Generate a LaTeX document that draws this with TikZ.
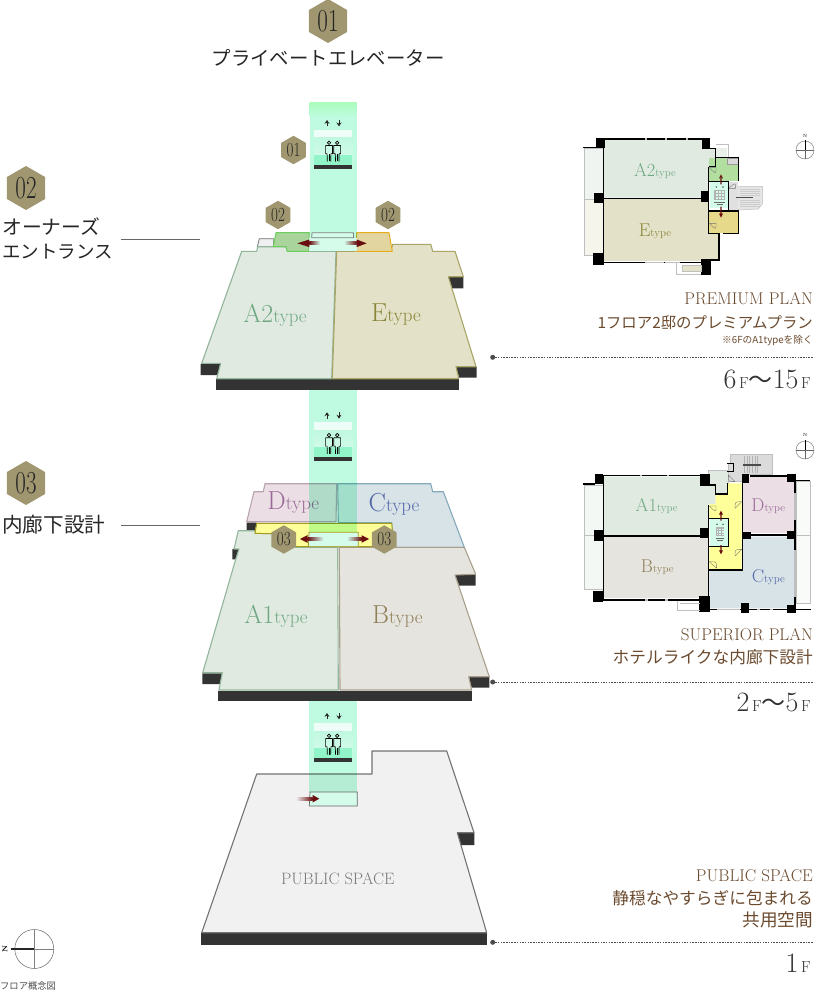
\documentclass[tikz,border=0pt]{standalone}
\usepackage{graphicx}
\usepackage{fontspec}
\newfontfamily\cjk{Noto Sans CJK JP}
\usetikzlibrary{shapes.geometric,arrows.meta}
\definecolor{hexc}{HTML}{A09770}
\definecolor{shaftc}{HTML}{BFFBE0}
\definecolor{mintc}{HTML}{D5FBEB}
\definecolor{liftw}{HTML}{EEFDF7}
\definecolor{lifta}{HTML}{C0F8E0}
\definecolor{liftb}{HTML}{D0FBE9}
\definecolor{liftc}{HTML}{92F5C9}
\definecolor{darkc}{HTML}{333333}
\definecolor{agf}{HTML}{E0EAE1}
\definecolor{ags}{HTML}{93B59B}
\definecolor{etf}{HTML}{E3E2C8}
\definecolor{ets}{HTML}{A9A566}
\definecolor{dtf}{HTML}{EBDFE5}
\definecolor{dts}{HTML}{B9A3B0}
\definecolor{ctf}{HTML}{D8E3E8}
\definecolor{cts}{HTML}{84A9BB}
\definecolor{btf}{HTML}{E6E4DF}
\definecolor{bts}{HTML}{A8A08C}
\definecolor{ptf}{HTML}{F1F1F1}
\definecolor{yelf}{HTML}{FFFF99}
\definecolor{yels}{HTML}{A39A20}
\definecolor{entgf}{HTML}{A9D49C}
\definecolor{entgs}{HTML}{6CCF5C}
\definecolor{entyf}{HTML}{E3D59F}
\definecolor{entys}{HTML}{E6AE1E}
\definecolor{plangf}{HTML}{B2DFA0}
\definecolor{planyf}{HTML}{E6D98A}
\definecolor{redc}{HTML}{6B0E10}
\definecolor{brownc}{HTML}{6B4A2E}
\definecolor{greenl}{HTML}{6FA882}
\definecolor{olivel}{HTML}{8A8438}
\definecolor{purl}{HTML}{9A6A98}
\definecolor{bluel}{HTML}{5568A8}
\definecolor{tanl}{HTML}{8F8058}
\newcommand\typelab[5]{{\color{#5}\fontsize{#3}{#3}\selectfont #1\fontsize{#4}{#4}\selectfont #2}}
\newcommand\nar[2]{\scalebox{#1}[1]{#2}}
\newcommand\flr[2]{{\fontsize{28}{28}\selectfont #1}{\fontsize{16}{16}\selectfont\,F}\ifx&#2&\else{\cjk\fontsize{24}{24}\selectfont 〜}{\fontsize{28}{28}\selectfont #2}{\fontsize{16}{16}\selectfont\,F}\fi}
% red arrow with a fading tail: tail start, head base, tip, y, background colour
\newcommand\redarrow[5]{%
  \shade[left color=#5,right color=redc,shading angle=\ifdim#1pt<#3pt 90\else 270\fi] (#1,#4-1.4) rectangle (#2,#4+1.4);
  \fill[redc] (#2,#4-3.8) -- (#3,#4) -- (#2,#4+3.8) -- cycle;}
\newcommand\door[5]{\draw[draw=black!55,line width=.35pt] (#1,#2) -- (#3,#4) (#3,#4) .. controls (#5) .. (#1,#2);}
\tikzset{
  x=1pt,y=-1pt,
  hex/.style={regular polygon,regular polygon sides=6,shape border rotate=30,fill=hexc,inner sep=0pt,outer sep=0pt,text=black!85},
  hexs/.style={hex,minimum size=28.5pt,font=\fontsize{20}{20}\selectfont},
  hexm/.style={hex,minimum size=44pt,font=\fontsize{32}{32}\selectfont},
  floorp/.style={line width=1.1pt,line join=round},
  block/.style={fill=darkc},
  head/.style={font=\cjk\fontsize{18.5}{22}\selectfont,text=black!85,anchor=west,inner sep=0pt},
  rt/.style={anchor=base east,inner sep=0pt,text=brownc},
  rtlat/.style={rt,font=\fontsize{17}{17}\selectfont\addfontfeature{LetterSpace=2}},
  rtcjk/.style={rt,font=\cjk\fontsize{16.7}{18}\selectfont},
  flrtxt/.style={anchor=base east,inner sep=0pt,text=black!80},
  leader/.style={line width=.4pt,draw=black!60},
  dashl/.style={line width=.4pt,draw=black!70,dash pattern=on 1.5pt off 1.2pt},
  dotn/.style={circle,fill=black!70,minimum size=5pt,inner sep=0pt,outer sep=0pt},
  wall/.style={line width=1.5pt,draw=black},
  col/.style={fill=black},
  win/.style={line width=1.5pt,draw=black!25},
  balc/.style={draw=black!25,line width=.5pt},
  person/.style={draw=black,line width=.7pt,fill=none},
  lift/.pic={
    \fill[liftw] (0,0) rectangle (38,8);
    \shade[top color=lifta,bottom color=liftb] (0,8) rectangle (38,25);
    \fill[liftc] (0,25) rectangle (38,35);
    \fill[darkc] (0,35) rectangle (38,39);
    \foreach \px in {14.7,22.9}{
      \draw[person] (\px,12.8) circle[radius=1.7];
      \draw[person,line join=round] (\px-1.7,31.5) -- (\px-1.9,23.8) -- (\px-3.4,23.8) -- (\px-3.4,15.5) -- (\px+3.4,15.5) -- (\px+3.4,23.8) -- (\px+1.9,23.8) -- (\px+1.7,31.5);
      \draw[person] (\px,24.5) -- (\px,31.5);
    }
    \draw[-{Stealth[length=3.8pt,width=5pt]},line width=.8pt,black!85] (12.7,-3.7) -- (12.7,-10);
    \draw[-{Stealth[length=3.8pt,width=5pt]},line width=.8pt,black!85] (24.7,-10) -- (24.7,-3.7);
  },
  compass/.pic={
    \draw[black!60,line width=.4pt] (0,0) circle[radius=27];
    \draw[black!60,line width=.3pt] (-27,0) -- (27,0) (0,-27) -- (0,27);
    \draw[black,line width=1pt] (0,-30) -- (0,0);
  },
}
\begin{document}
\begin{tikzpicture}
\useasboundingbox (0,0) rectangle (815,1000);
\fill[white] (0,0) rectangle (815,1000);

% ---------- floor 3: public space
\fill[block] (200.7,933.3) rectangle (486.7,945);
\fill[block] (457.3,832.7) -- (474.3,832.7) -- (474.3,845) -- (460.7,845) -- cycle;
\filldraw[fill=ptf,draw=black!55,floorp] (256.7,774) -- (372,774) -- (372,751) -- (446.7,751) -- (474,832.7) -- (457.3,832.7) -- (486.7,932.7) -- (201.7,932.7) -- cycle;
\node[text=black!52,font=\fontsize{16.5}{16.5}\selectfont\addfontfeature{LetterSpace=2},inner sep=0pt] (pubtxt) at (337.7,878.3) {PUBLIC SPACE};
\begin{scope}[blend mode=multiply]
\fill[shaftc] (309.3,701) rectangle (356.7,792);
\end{scope}
\pic at (314.3,723) {lift};
\filldraw[fill=mintc,draw=black!60,line width=.7pt] (310,792) -- (357.3,792) -- (357.3,806) -- (309.3,806) -- cycle;
\redarrow{296}{312.5}{319.3}{798.7}{ptf}

% ---------- floor 2: D / C behind, A1 / B in front
\filldraw[fill=dtf,draw=dts,floorp] (265,483.7) -- (336.7,483.7) -- (336,521.7) -- (246.7,521.7) -- (254,491.7) -- (263.3,491.7) -- cycle;
\filldraw[fill=ctf,draw=cts,floorp] (337.7,483.7) -- (430.7,483.7) -- (432.7,491.7) -- (443.3,491.7) -- (464.3,547.3) -- (393,547.3) -- (391.7,522.7) -- (338.3,522.7) -- cycle;
\node[inner sep=0pt] (dlab) at (293.3,502.7) {\typelab{D}{type}{26}{19}{purl}};
\node[inner sep=0pt] (clab) at (394,504) {\typelab{C}{type}{26}{19}{bluel}};
\fill[block] (246.7,522.7) -- (256.7,522.7) -- (255,530) -- (246.7,530) -- cycle;
\fill[block] (232.3,549) -- (239,549) -- (235.7,559.3) -- (232.3,559.3) -- cycle;
\fill[block] (202.3,673.3) -- (222.3,673.3) -- (220,684) -- (202.3,684) -- cycle;
\fill[block] (217.7,690.7) rectangle (472.3,701);
\fill[block] (455,575) -- (475.7,575) -- (475.7,585.7) -- (459.3,585.7) -- cycle;
\fill[block] (468.7,676.7) -- (489.3,676.7) -- (489.3,687.7) -- (471.7,687.7) -- cycle;
\filldraw[fill=agf,draw=ags,floorp] (238.3,530.7) -- (256,530.7) -- (255,533.3) -- (291.7,534) -- (295,547.3) -- (337.7,547.3) -- (338.3,690) -- (219,690) -- (222.3,672.7) -- (202.7,672.7) -- (235.7,559.3) -- (239,549) -- (234,549) -- cycle;
\filldraw[fill=btf,draw=bts,floorp] (339.3,547.3) -- (464.3,547.3) -- (475.7,574.3) -- (455,575) -- (489.3,676.7) -- (468.7,676.7) -- (471.7,690) -- (340,690) -- cycle;
\node[inner sep=0pt] (a1lab) at (276,616.7) {\typelab{A1}{type}{26}{19}{greenl}};
\node[inner sep=0pt] (blab) at (397.3,616.7) {\typelab{B}{type}{26}{19}{tanl}};
\filldraw[fill=yelf,draw=yels,line width=1pt,line join=round] (256.7,523.3) -- (391.7,523.3) -- (394,546.7) -- (295,546.7) -- (291.7,534.3) -- (255,533.3) -- cycle;
\begin{scope}[blend mode=multiply]
\fill[shaftc] (309.3,390) rectangle (356.7,532.3);
\end{scope}
\pic at (314.3,422.3) {lift};
\filldraw[fill=mintc,draw=yels,line width=.8pt] (309,532.3) -- (358.3,532.3) -- (358.3,546.7) -- (308.3,546.7) -- cycle;
\redarrow{323.3}{307.5}{300}{539}{mintc}
\redarrow{346.7}{361.5}{369}{539}{mintc}
\node[hexs] (h3a) at (283.8,539.5) {\nar{.75}{03}};
\node[hexs] (h3b) at (384.3,539.5) {\nar{.75}{03}};

% ---------- floor 1
\fill[block] (200.7,364) -- (220.7,364) -- (218,375) -- (200.7,375) -- cycle;
\fill[block] (215.7,379.3) rectangle (459.3,390);
\fill[block] (456,366.7) -- (476.7,366.7) -- (476.7,377.7) -- (459.3,377.7) -- cycle;
\fill[block] (448.3,276.7) -- (463.3,276.7) -- (463.3,288.3) -- (452.3,288.3) -- cycle;
\filldraw[fill=black!6,draw=black!55,line width=.8pt] (257.3,246.7) -- (259.3,238.7) -- (274,238.7) -- (273.3,246.7) -- cycle;
\filldraw[fill=agf,draw=ags,floorp] (241.7,251.3) -- (256.7,251.3) -- (257.7,246.7) -- (286,246.7) -- (287.3,251.3) -- (336,251.3) -- (331.7,378.7) -- (216.7,378.7) -- (220.7,363.3) -- (201.7,363.3) -- cycle;
\filldraw[fill=etf,draw=ets,floorp] (336.7,251.3) -- (390.7,251.3) -- (392.7,244.3) -- (430.7,244.3) -- (432.7,251.3) -- (455,251.3) -- (463.3,276.7) -- (448.3,276.7) -- (476,366.7) -- (456,366.7) -- (458.7,378.7) -- (332.3,378.7) -- cycle;
\node[inner sep=0pt] (a2lab) at (275,315) {\typelab{A2}{type}{26}{19}{greenl}};
\node[inner sep=0pt] (elab) at (396,315) {\typelab{E}{type}{26}{19}{olivel}};
\filldraw[fill=entgf,draw=entgs,line width=1pt,line join=round] (276,232.7) -- (309.3,232.7) -- (308.7,251.3) -- (287.3,251.3) -- (286,246.7) -- (273.3,246.7) -- cycle;
\filldraw[fill=entyf,draw=entys,line width=1pt,line join=round] (356.7,232.7) -- (389,232.7) -- (392.3,251.3) -- (355.7,251.3) -- cycle;
\fill[mintc] (309,238) rectangle (357,251);
\begin{scope}[blend mode=multiply]
\shade[top color=shaftc!75!green!75!white,bottom color=shaftc] (309.5,103) rectangle (356.7,117);
\fill[shaftc] (309.5,117) rectangle (356.7,238);
\end{scope}
\filldraw[fill=mintc,draw=black!50,line width=.8pt] (312,232.7) -- (353.3,232.7) -- (353.7,237.7) -- (311.7,237.7) -- cycle;
\pic at (314.3,130) {lift};
\redarrow{320}{309.3}{297.3}{243.3}{mintc}
\redarrow{344}{356.7}{366.7}{243.3}{mintc}
\node[hexs] (h1s) at (293.5,150) {\nar{.75}{01}};
\node[hexs] (h2a) at (278,215) {\nar{.75}{02}};
\node[hexs] (h2b) at (388,215) {\nar{.75}{02}};

% ---------- left captions
\node[hexm] (h1m) at (328,21) {\nar{.72}{01}};
\node[font=\cjk\fontsize{19.4}{22}\selectfont,text=black!85,inner sep=0pt] (t1) at (328,58) {プライベートエレベーター};
\node[hexm] (h2m) at (26,188) {\nar{.72}{02}};
\node[head,font=\cjk\fontsize{19.8}{22}\selectfont] (t2a) at (2,227) {オーナーズ};
\node[head] (t2b) at (2,252) {エントランス};
\node[hexm] (h3m) at (26,483) {\nar{.72}{03}};
\node[head,font=\cjk\fontsize{20.6}{22}\selectfont] (t3) at (2,525) {内廊下設計};
\coordinate (l2a) at (121,239.5); \coordinate (l2b) at (200,239.5);
\coordinate (l3a) at (121,525); \coordinate (l3b) at (200,525);
\draw[leader] (l2a) -- (l2b);
\draw[leader] (l3a) -- (l3b);

% ---------- right captions
\node[dotn] (d1) at (492.7,357.3) {}; \coordinate (e1) at (813,357.3);
\node[dotn] (d2) at (492.7,682) {}; \coordinate (e2) at (813,682);
\node[dotn] (d3) at (492.7,942.3) {}; \coordinate (e3) at (813,942.3);
\draw[dashl] (d1) -- (e1);
\draw[dashl] (d2) -- (e2);
\draw[dashl] (d3) -- (e3);
\node[rtlat] (r1a) at (813,304) {PREMIUM PLAN};
\node[rtcjk,font=\cjk\fontsize{15.4}{18}\selectfont] (r1b) at (813,328) {1フロア2邸のプレミアムプラン};
\node[rtcjk,font=\cjk\fontsize{9.7}{11}\selectfont] (r1c) at (813,343.5) {※6FのA1typeを除く};
\node[flrtxt] (r1d) at (811,388) {\flr{6}{15}};
\node[rtlat] (r2a) at (813,640) {SUPERIOR PLAN};
\node[rtcjk] (r2b) at (813,663) {ホテルライクな内廊下設計};
\node[flrtxt] (r2d) at (811,711) {\flr{2}{5}};
\node[rtlat] (r3a) at (813,881) {PUBLIC SPACE};
\node[rtcjk] (r3b) at (813,904) {静穏なやすらぎに包まれる};
\node[rtcjk,font=\cjk\fontsize{17.6}{18}\selectfont] (r3c) at (813,926) {共用空間};
\node[flrtxt] (r3d) at (811,972) {\flr{1}{}};

% ---------- bottom-left compass
\draw[black!60,line width=.5pt] (34.3,949) circle[radius=19.5];
\draw[black!50,line width=.4pt] (34.3,929.5) -- (34.3,968.5) (34.3,949) -- (53.8,949);
\draw[black!85,line width=2pt] (10.7,949.3) -- (34.3,949.3);
\node[rotate=90,font=\fontsize{7}{7}\selectfont\bfseries,inner sep=0pt] (nlab) at (5,949) {N};
\node[font=\cjk\fontsize{9.3}{11}\selectfont,text=black!70,anchor=west,inner sep=0pt] (concept) at (0,986) {フロア概念図};

% ---------- plan, upper (coordinates are 3x, offset 570,125)
\begin{scope}[shift={(570,125)},scale=1/3]
\filldraw[fill=agf!50!white,balc] (42,70) rectangle (100,222);
\filldraw[fill=etf!35!white,balc] (42,222) rectangle (100,390);
\draw[balc] (437,58) -- (475,58) -- (475,97);
\fill[etf] (100,222) -- (415,222) -- (415,325) -- (445,325) -- (445,408) -- (100,408) -- cycle;
\fill[agf] (100,45) -- (415,45) -- (415,70) -- (437,70) -- (437,125) -- (415,125) -- (415,218) -- (100,218) -- cycle;
\fill[agf!70!white] (437,70) rectangle (472,97);
\filldraw[fill=black!10,balc] (475,185) -- (578,185) -- (578,235) -- (565,252) -- (505,255) -- cycle;
\foreach \sy in {192,198,204,210,226,232,238,244} \draw[black!20,line width=.25pt] (510,\sy) -- (570,\sy);
\fill[black!12] (475,170) rectangle (505,258);
\draw[black!70,line width=1.1pt] (498,218) -- (548,218);
\fill[plangf] (418,100) rectangle (505,168);
\fill[planyf] (418,258) rectangle (505,325);
\filldraw[fill=black!15,draw=black!40,line width=.3pt] (470,100) rectangle (503,118);
\door{418}{128}{438}{128}{438,148}
\door{418}{295}{438}{295}{438,315}
\door{475}{190}{497}{190}{497,172}
\fill[mintc] (420,172) rectangle (473,248);
\fill[gray!60] (433,195) rectangle (465,225);
\foreach \cx in {437,447,457} \foreach \cy in {199,208,216} \fill[mintc] (\cx,\cy) rectangle +(6,5);
\fill[black!70] (439,186) circle[radius=2.5] (459,186) circle[radius=2.5];
\draw[black!60,line width=.5pt] (433,232) -- (465,232) (440,238) -- (458,238);
\draw[wall] (40,68) -- (78,68);
\draw[wall] (78,42) -- (418,42);
\draw[wall] (100,220) -- (415,220);
\draw[wall] (100,45) -- (100,412);
\draw[wall] (100,412) -- (395,412);
\draw[wall] (415,70) -- (437,70) -- (437,97) -- (505,97) -- (505,168);
\draw[wall] (415,125) -- (415,325) -- (447,325) -- (447,405) -- (420,405);
\draw[wall] (418,170) -- (475,170) -- (475,258) -- (418,258);
\draw[wall] (418,258) -- (505,258) -- (505,325) -- (460,325);
\draw[wall] (437,97) -- (437,125) -- (418,125);
\draw[win] (225,42) -- (232,42) (285,42) -- (292,42) (348,42) -- (355,42) (225,412) -- (282,412) (285,412) -- (330,412);
\fill[col] (78,38) rectangle (105,70);
\fill[col] (395,40) rectangle (420,72);
\fill[col] (73,205) rectangle (100,235);
\fill[col] (393,198) rectangle (418,232);
\fill[col] (70,385) rectangle (103,420);
\fill[col] (393,403) rectangle (422,450);
\draw[balc] (320,415) -- (320,447) -- (393,447);
\fill[etf] (337,420) rectangle (393,440);
\draw[balc] (337,420) rectangle (393,440);
\fill[redc] (451,178) rectangle (455,158) (453,148) -- (447,160) -- (459,160) -- cycle;
\fill[redc] (451,245) rectangle (455,266) (453,278) -- (447,266) -- (459,266) -- cycle;
\node[inner sep=0pt] (pa2) at (255,137) {\typelab{A2}{type}{18.5}{11}{greenl}};
\node[inner sep=0pt] (pe) at (255,318) {\typelab{E}{type}{18.5}{11}{olivel}};
\pic[transform shape] at (705,75) {compass};
\node[font=\fontsize{4.5}{5}\selectfont,inner sep=0pt] (n1) at (705,32) {N};
\end{scope}

% ---------- plan, lower (coordinates are 3x, offset 570,430)
\begin{scope}[shift={(570,430)},scale=1/3]
\filldraw[fill=agf!35!white,balc] (42,165) rectangle (100,478);
\filldraw[fill=agf!20!white,balc] (678,155) rectangle (722,520);
\draw[balc] (678,315) -- (722,315) (42,315) -- (100,315);
\fill[agf] (100,140) -- (390,140) -- (390,165) -- (437,165) -- (437,222) -- (415,222) -- (415,315) -- (100,315) -- cycle;
\filldraw[fill=agf,balc] (415,122) -- (475,122) -- (475,190) -- (437,190) -- (437,165) -- (415,165) -- cycle;
\fill[btf] (100,320) rectangle (415,505);
\fill[dtf] (520,140) rectangle (672,310);
\fill[ctf] (418,420) -- (518,420) -- (518,320) -- (672,320) -- (672,535) -- (418,535) -- cycle;
\filldraw[fill=black!14,balc] (480,72) -- (608,72) -- (608,132) -- (518,132) -- (518,155) -- (475,155) -- (475,100) -- (480,100) -- cycle;
\foreach \sx in {522,530,538,546,554,562} \draw[black!30,line width=.3pt] (\sx,78) -- (\sx,128);
\draw[black!70,line width=1.1pt] (520,105) -- (572,105);
\fill[yelf] (437,192) -- (472,192) -- (472,160) -- (515,160) -- (515,418) -- (418,418) -- (418,350) -- (475,350) -- (475,265) -- (418,265) -- (418,222) -- (437,222) -- cycle;
\door{418}{228}{438}{228}{438,248}
\door{515}{215}{495}{235}{495,215}
\door{515}{358}{495}{378}{495,358}
\door{418}{395}{440}{415}{440,395}
\door{475}{135}{495}{155}{475,155}
\fill[mintc] (420,267) rectangle (473,348);
\fill[gray!60] (437,292) rectangle (463,318);
\foreach \cx in {440,448,456} \foreach \cy in {296,304,311} \fill[mintc] (\cx,\cy) rectangle +(5,4);
\fill[black!70] (441,283) circle[radius=2.5] (459,283) circle[radius=2.5];
\draw[black!60,line width=.5pt] (437,325) -- (463,325) (441,332) -- (459,332);
\draw[wall] (40,162) -- (75,162);
\draw[wall] (100,136) -- (390,136);
\draw[wall] (100,136) -- (100,510);
\draw[wall] (100,318) -- (415,318);
\draw[wall] (100,510) -- (390,510);
\draw[wall] (390,165) -- (437,165) -- (437,192) -- (472,192) -- (472,160);
\draw[wall] (472,100) -- (490,100) -- (490,125) -- (472,125);
\draw[wall] (540,138) -- (678,138);
\draw[wall] (678,152) -- (720,152);
\draw[wall] (517,155) -- (517,420) -- (418,420);
\draw[wall] (415,225) -- (415,535);
\draw[wall] (418,265) -- (475,265) -- (475,350) -- (418,350);
\draw[wall] (520,315) -- (675,315);
\draw[wall] (675,140) -- (675,540);
\draw[wall] (420,538) -- (722,538);
\draw[win] (225,510) -- (235,510) (285,510) -- (295,510) (440,538) -- (510,538) (560,538) -- (570,538) (600,538) -- (610,538) (210,136) -- (216,136) (290,136) -- (296,136) (675,190) -- (675,270) (675,360) -- (675,500);
\fill[col] (75,132) rectangle (100,162);
\fill[col] (390,132) rectangle (420,165);
\fill[col] (72,300) rectangle (100,333);
\fill[col] (390,293) rectangle (418,325);
\fill[col] (70,482) rectangle (100,515);
\fill[col] (388,497) rectangle (420,545);
\fill[col] (515,133) rectangle (538,160);
\fill[col] (652,132) rectangle (678,157);
\fill[col] (518,305) rectangle (542,328);
\fill[col] (652,303) rectangle (678,327);
\fill[col] (513,520) rectangle (538,548);
\fill[col] (652,525) rectangle (678,550);
\draw[balc] (323,513) -- (323,540) -- (390,540);
\draw[balc] (330,520) -- (390,520);
\fill[redc] (451,272) rectangle (455,253) (453,242) -- (447,254) -- (459,254) -- cycle;
\fill[redc] (451,345) rectangle (455,360) (453,373) -- (447,361) -- (459,361) -- cycle;
\node[inner sep=0pt] (pa1) at (260,228) {\typelab{A1}{type}{18.5}{11}{greenl}};
\node[inner sep=0pt] (pd) at (595,228) {\typelab{D}{type}{18.5}{11}{purl}};
\node[inner sep=0pt] (pb) at (262,413) {\typelab{B}{type}{18.5}{11}{tanl}};
\node[inner sep=0pt] (pc) at (595,440) {\typelab{C}{type}{18.5}{11}{bluel}};
\pic[transform shape] at (705,60) {compass};
\node[font=\fontsize{4.5}{5}\selectfont,inner sep=0pt] (n2) at (705,15) {N};
\end{scope}
\end{tikzpicture}
\end{document}
